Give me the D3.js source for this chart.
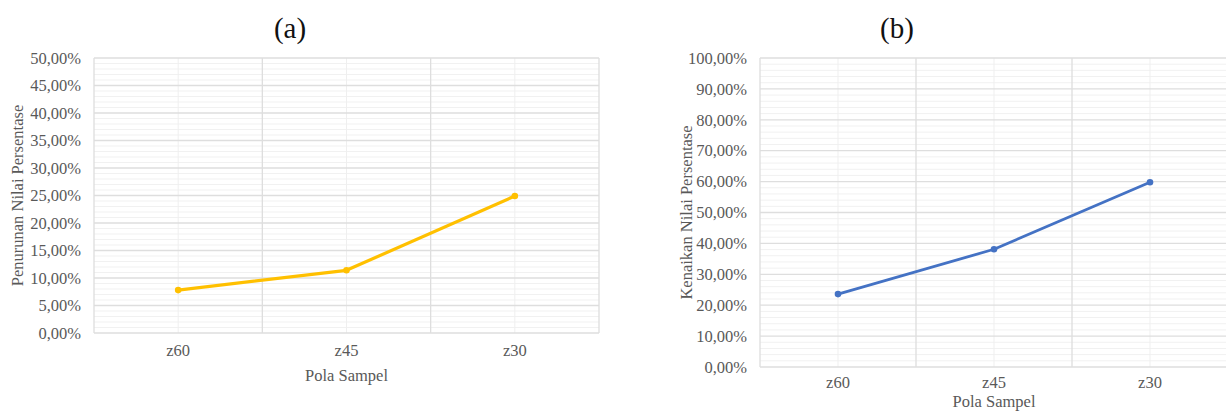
<!DOCTYPE html>
<html>
<head>
<meta charset="utf-8">
<script src="https://cdn.jsdelivr.net/npm/d3@7"></script>
<style>
  html, body { margin: 0; padding: 0; background: #fff; }
  svg { display: block; }
  text { font-family: "Liberation Serif", "DejaVu Serif", serif; }
</style>
</head>
<body>
<svg id="chart" width="1226" height="412"></svg>
<script>
// Sample patterns on the x axis
const categories = ["z60", "z45", "z30"];
// (a) decrease in percentage value, %
const penurunan = [7.8, 11.4, 24.9];
// (b) increase in percentage value, %
const kenaikan = [23.6, 38.1, 59.8];

const yMaxA = 50, yStepA = 5, yMinorA = 1;
const yMaxB = 100, yStepB = 10, yMinorB = 2;

const svg = d3.select("#chart");
const fmt = v => d3.format(".2f")(v).replace(".", ",") + "%";
const FONT = "'Liberation Serif', 'DejaVu Serif', serif";
const LABEL_SIZE = "16.5px";

function panel(opt) {
  const g = svg.append("g");
  const x = d3.scaleBand().domain(categories).range([opt.left, opt.right]).padding(0);
  const y = d3.scaleLinear().domain([0, opt.max]).range([opt.bottom, opt.top]);

  // minor horizontal grid
  g.append("g").selectAll("line")
    .data(d3.range(0, opt.max + 1e-9, opt.minor).filter(v => Math.abs(v / opt.step - Math.round(v / opt.step)) > 1e-6))
    .join("line")
    .attr("x1", opt.left).attr("x2", opt.right)
    .attr("y1", d => y(d)).attr("y2", d => y(d))
    .attr("stroke", "#f1f1f1").attr("stroke-width", 1);

  // vertical grid: faint through category centres, stronger at band edges
  g.append("g").selectAll("line")
    .data(categories)
    .join("line")
    .attr("x1", d => x(d) + x.bandwidth() / 2).attr("x2", d => x(d) + x.bandwidth() / 2)
    .attr("y1", opt.top).attr("y2", opt.bottom)
    .attr("stroke", "#efefef").attr("stroke-width", 1);
  const edges = categories.map(d => x(d)).concat([opt.right]);
  g.append("g").selectAll("line")
    .data(edges)
    .join("line")
    .attr("x1", d => d).attr("x2", d => d)
    .attr("y1", opt.top).attr("y2", opt.bottom)
    .attr("stroke", "#dedede").attr("stroke-width", 1.3);

  // major horizontal grid
  const ticks = d3.range(0, opt.max + 1e-9, opt.step);
  g.append("g").selectAll("line")
    .data(ticks)
    .join("line")
    .attr("x1", opt.left).attr("x2", opt.right)
    .attr("y1", d => y(d)).attr("y2", d => y(d))
    .attr("stroke", "#dedede").attr("stroke-width", 1.3);

  // y axis tick labels
  const yAxis = d3.axisLeft(y).tickValues(ticks).tickFormat(fmt).tickSize(0).tickPadding(13);
  const ya = g.append("g").attr("transform", `translate(${opt.left},0)`).call(yAxis);
  ya.select(".domain").remove();
  ya.selectAll("text")
    .attr("fill", "#595959")
    .style("font-family", FONT)
    .style("font-size", LABEL_SIZE);

  // x axis tick labels
  const xAxis = d3.axisBottom(x).tickSize(0).tickPadding(opt.xPad);
  const xa = g.append("g").attr("transform", `translate(0,${opt.bottom})`).call(xAxis);
  xa.select(".domain").remove();
  xa.selectAll("text")
    .attr("fill", "#595959")
    .style("font-family", FONT)
    .style("font-size", LABEL_SIZE);

  // series line and markers
  const pts = categories.map((c, i) => [x(c) + x.bandwidth() / 2, y(opt.values[i])]);
  g.append("path")
    .attr("d", d3.line()(pts))
    .attr("fill", "none")
    .attr("stroke", opt.color)
    .attr("stroke-width", opt.width)
    .attr("stroke-linejoin", "round")
    .attr("stroke-linecap", "round");
  g.append("g").selectAll("circle")
    .data(pts)
    .join("circle")
    .attr("cx", d => d[0]).attr("cy", d => d[1])
    .attr("r", 3.3)
    .attr("fill", opt.color);

  // titles
  g.append("text")
    .attr("x", opt.titleX).attr("y", 38)
    .attr("text-anchor", "middle")
    .attr("fill", "#111")
    .style("font-family", FONT)
    .style("font-size", "29px")
    .text(opt.title);
  g.append("text")
    .attr("transform", `translate(${opt.yTitleX},${(opt.top + opt.bottom) / 2}) rotate(-90)`)
    .attr("text-anchor", "middle")
    .attr("fill", "#595959")
    .style("font-family", FONT)
    .style("font-size", LABEL_SIZE)
    .text(opt.yTitle);
  g.append("text")
    .attr("x", (opt.left + opt.right) / 2).attr("y", opt.xTitleY)
    .attr("text-anchor", "middle")
    .attr("fill", "#595959")
    .style("font-family", FONT)
    .style("font-size", LABEL_SIZE)
    .text("Pola Sampel");
}

panel({
  left: 94, right: 599, top: 58, bottom: 333,
  max: yMaxA, step: yStepA, minor: yMinorA,
  values: penurunan, color: "#FFC000", width: 3.2,
  title: "(a)", titleX: 290,
  yTitle: "Penurunan Nilai Persentase", yTitleX: 23, xTitleY: 381, xPad: 11
});

panel({
  left: 760, right: 1228, top: 58, bottom: 367,
  max: yMaxB, step: yStepB, minor: yMinorB,
  values: kenaikan, color: "#4472C4", width: 2.8,
  title: "(b)", titleX: 897,
  yTitle: "Kenaikan Nilai Persentase", yTitleX: 692, xTitleY: 407, xPad: 9
});
</script>
</body>
</html>
